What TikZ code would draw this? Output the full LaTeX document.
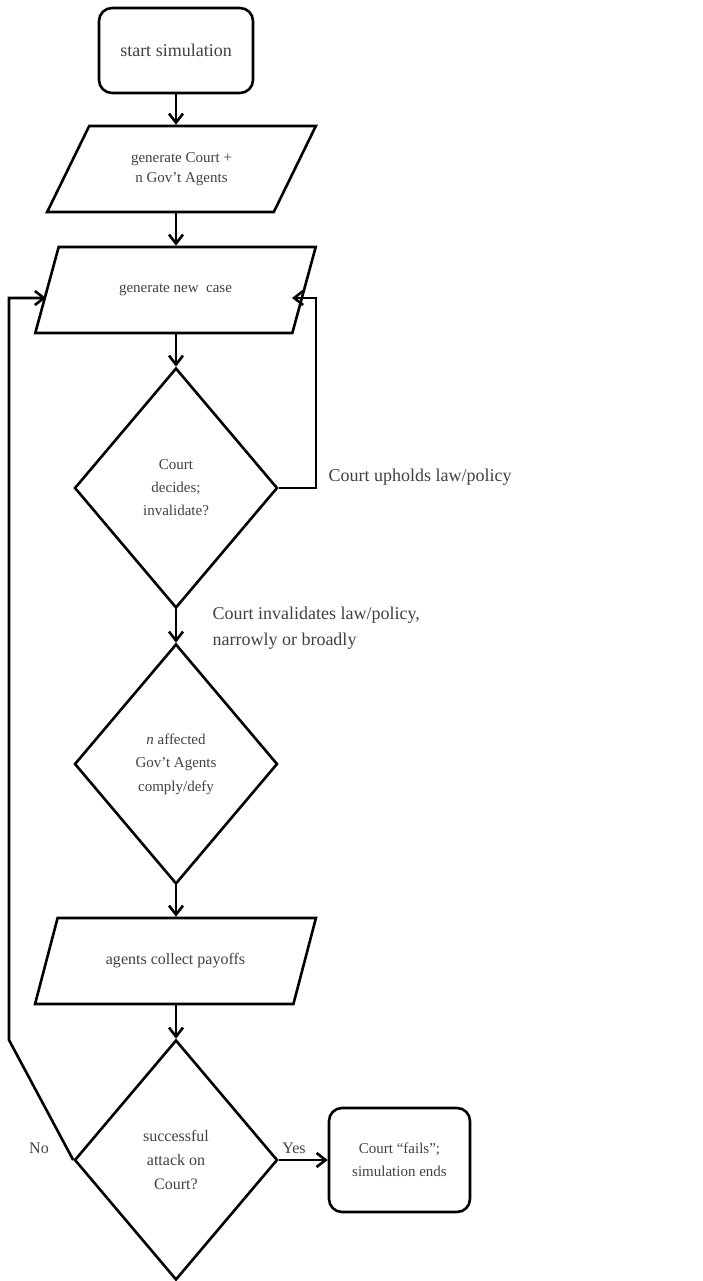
\documentclass[tikz,border=0pt]{standalone}
\usepackage{fontspec}
\setmainfont{Liberation Serif}
\usetikzlibrary{shapes.geometric,arrows.meta}
\begin{document}
\begin{tikzpicture}[x=1pt,y=-1pt,
  every node/.style={text=black!75},
  line/.style={line width=2.6pt, line join=miter},
  arr/.style={line, -{Straight Barb[length=9pt,width=14pt]}},
  term/.style={draw, line width=2.6pt, rectangle, rounded corners=13pt, align=center},
  io/.style={draw, line width=2.6pt, trapezium, trapezium stretches=true, align=center, minimum height=86pt},
  dec/.style={draw, line width=2.6pt, diamond, minimum width=203pt, minimum height=240pt, inner sep=0pt, align=center},
  lbl/.style={font=\fontsize{18}{26}\selectfont, align=left},
]
\useasboundingbox (0,0) rectangle (702,1281);
\node[term, minimum width=154pt, minimum height=85pt, font=\fontsize{18}{22}\selectfont] (start) at (176,50.5) {start simulation};
\node[io, trapezium left angle=58.4, trapezium right angle=121.6, minimum width=269pt, font=\fontsize{15}{20}\selectfont] (p1) at (181.5,169) {generate Court +\\n Gov't Agents};
\node[io, trapezium left angle=56.9, trapezium right angle=123.1, minimum width=281pt, font=\fontsize{15}{20}\selectfont] (p2) at (175.5,290) {generate new\ \ case};
\node[dec, font=\fontsize{15}{23}\selectfont] (d1) at (176,488) {Court\\decides;\\invalidate?};
\node[dec, font=\fontsize{15}{23.5}\selectfont] (d2) at (176,764) {\textit{n} affected\\Gov't Agents\\comply/defy};
\node[io, trapezium left angle=56.9, trapezium right angle=123.1, minimum width=281pt, font=\fontsize{16}{20}\selectfont] (p3) at (175.5,961) {agents collect payoffs};
\node[dec, font=\fontsize{16}{24}\selectfont] (d3) at (176,1160) {successful\\attack on\\Court?};
\node[term, minimum width=141pt, minimum height=104pt, font=\fontsize{15}{23}\selectfont] (end) at (399.5,1160) {Court ``fails'';\\simulation ends};

\node[lbl, anchor=west] (uph) at (325,477) {Court upholds law/policy};
\node[lbl, anchor=west] (inv) at (209,628) {Court invalidates law/policy,\\narrowly or broadly};
\node[font=\fontsize{16}{20}\selectfont] (no) at (39,1148) {No};
\node[font=\fontsize{16}{20}\selectfont] (yes) at (294,1148) {Yes};

\draw[arr] (start.south) -- (start.south |- p1.north);
\draw[arr] (p1.south -| start.south) -- (p2.north -| start.south);
\draw[arr] (p2.south -| d1.north) -- (d1.north);
\draw[arr] (d1.south) -- (d2.north);
\draw[arr] (d2.south) -- (p3.north -| d2.south);
\draw[arr] (p3.south -| d3.north) -- (d3.north);

\coordinate (rc) at (316,298);
\coordinate (rtip) at (292,298);
\draw[arr] (d1.east) -| (rc) -- (rtip);

\coordinate (lb) at (9,1040);
\coordinate (lt) at (9,298);
\coordinate (ltip) at (46,298);
\draw[arr] (d3.west) -- (lb) -- (lt) -- (ltip);

\draw[arr] (d3.east) -- (end.west);
\end{tikzpicture}
\end{document}
